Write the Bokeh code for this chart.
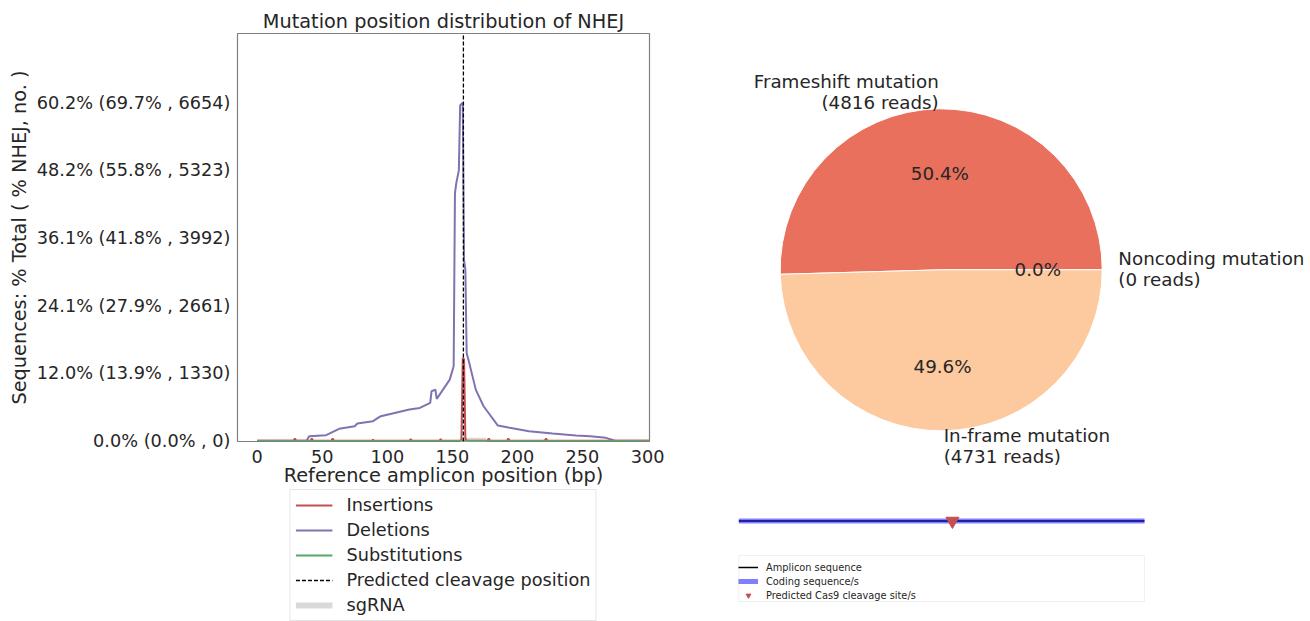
import math
from bokeh.plotting import figure
from bokeh.layouts import row, column
from bokeh.models import Range1d, FixedTicker, Legend, LegendItem, BoxAnnotation
from bokeh.embed import file_html
from bokeh.resources import INLINE
from bokeh.core.properties import value

FONT = "DejaVu Sans"
TXT = "#262626"

# ---------------- data ----------------
del_pos = [0, 38, 40, 53, 63, 75, 77, 89, 95, 104, 117, 125, 133, 134, 137, 138, 148, 151, 152, 153,
           155, 156, 158, 159, 160, 161, 163, 168, 174, 185, 194, 209, 227, 245, 256, 268, 275, 301]
del_val = [0, 0, 91, 111, 235, 287, 340, 386, 484, 536, 615, 647, 746, 975, 1007, 824, 1204, 1466, 4870, 5066,
           5328, 6605, 6654, 3560, 3366, 1728, 1532, 1007, 680, 300, 255, 189, 143, 104, 91, 58, 0, 0]

ins_pos = [0, 28, 29, 30, 41, 42, 43, 57, 58, 59, 88, 89, 90, 117, 118, 119, 140, 141, 142,
           156, 157, 158, 159, 160, 161, 177, 178, 179, 192, 193, 194, 221, 222, 223, 301]
ins_val = [0, 0, 45, 0, 0, 45, 0, 0, 45, 0, 0, 20, 0, 0, 30, 0, 0, 30, 0,
           0, 20, 1630, 1610, 40, 0, 0, 45, 0, 0, 45, 0, 0, 45, 0, 0]

sub_pos = [0, 301]
sub_val = [0, 0]

cut_pos = 158.5
sgrna_span = [156, 176]

y_ticks = [0, 1330.8, 2661.6, 3992.4, 5323.2, 6654]
y_tick_labels = ["0.0% (0.0% , 0)", "12.0% (13.9% , 1330)", "24.1% (27.9% , 2661)",
                 "36.1% (41.8% , 3992)", "48.2% (55.8% , 5323)", "60.2% (69.7% , 6654)"]
x_ticks = [0, 50, 100, 150, 200, 250, 300]

pie_names = ["Frameshift mutation", "In-frame mutation", "Noncoding mutation"]
pie_reads = [4816, 4731, 0]
pie_colors = ["#E8705C", "#FDC99E", "#FEE8D8"]

amplicon_len = 301
coding_span = [0, 301]
cas9_cut = [158.5]

# styles
C_INS, C_DEL, C_SUB, C_SG = "#C44E52", "#8172B2", "#55A868", "#d9d9d9"

# ---------------- left: mutation position distribution ----------------
LW = 680
BL, BR = 237, 31
Y0, Y1 = -14, 8018
p1 = figure(width=LW, height=489, x_range=Range1d(-15.1, 301.5), y_range=Range1d(Y0, Y1),
            output_backend="svg", toolbar_location=None,
            min_border_left=BL, min_border_right=BR, min_border_top=33, min_border_bottom=47)
p1.background_fill_color = "white"
p1.border_fill_color = "white"
p1.outline_line_color = "#808080"
p1.outline_line_width = 1.2
p1.grid.visible = False

p1.title.text = "Mutation position distribution of NHEJ"
p1.title.align = "center"
p1.title.text_font = FONT
p1.title.text_font_size = "19.3px"
p1.title.text_font_style = "normal"
p1.title.text_color = TXT
p1.title.standoff = 1

for ax in (p1.xaxis[0], p1.yaxis[0]):
    ax.axis_line_color = None
    ax.major_tick_out = 0
    ax.major_tick_in = 0
    ax.minor_tick_out = 0
    ax.minor_tick_in = 0
    ax.major_label_text_font = FONT
    ax.major_label_text_font_size = "17.7px"
    ax.major_label_text_color = TXT
    ax.major_label_text_line_height = 1.0
    ax.axis_label_text_font = FONT
    ax.axis_label_text_font_size = "19.3px"
    ax.axis_label_text_font_style = "normal"
    ax.axis_label_text_color = TXT
    ax.axis_label_text_line_height = 1.0

p1.yaxis.ticker = FixedTicker(ticks=y_ticks)
p1.yaxis.major_label_overrides = dict(zip(y_ticks, y_tick_labels))
p1.yaxis.major_label_standoff = 7
p1.yaxis.axis_label = "Sequences: % Total ( % NHEJ, no. )"
p1.yaxis.axis_label_standoff = 3

p1.xaxis.ticker = FixedTicker(ticks=x_ticks)
p1.xaxis.major_label_standoff = 8
p1.xaxis.axis_label = "Reference amplicon position (bp)"
p1.xaxis.axis_label_standoff = -2

p1.line(sgrna_span, [0, 0], line_width=6, line_color=C_SG)
p1.line(del_pos, del_val, line_width=2, line_color=C_DEL)
p1.line(ins_pos, ins_val, line_width=2, line_color=C_INS)
p1.line(sub_pos, sub_val, line_width=1.5, line_color=C_SUB)
p1.line([cut_pos, cut_pos], [Y0, Y1], line_width=1.3, line_color="black", line_dash="4 2")

# legend strip under the left plot (same side borders, so column alignment is harmless).
# Its proxy renderers reuse the series but sit outside this strip's (empty) y range.
pl = figure(width=LW, height=132, x_range=Range1d(0, 1), y_range=Range1d(-3, -2),
            output_backend="svg", toolbar_location=None,
            x_axis_location=None, y_axis_location=None,
            min_border_left=BL, min_border_right=BR, min_border_top=0, min_border_bottom=0)
pl.outline_line_color = None
pl.grid.visible = False
pl.background_fill_color = "white"
pl.border_fill_color = "white"
l_ins = pl.line(ins_pos, ins_val, line_width=2, line_color=C_INS)
l_del = pl.line(del_pos, del_val, line_width=2, line_color=C_DEL)
l_sub = pl.line(sub_pos, sub_val, line_width=2, line_color=C_SUB)
l_cut = pl.line([cut_pos, cut_pos], [Y0 + 100, Y1], line_width=1.3, line_color="black", line_dash="4 2")
l_sg = pl.line(sgrna_span, [0, 0], line_width=6, line_color=C_SG)
leg1 = Legend(items=[LegendItem(label="Insertions", renderers=[l_ins]),
                     LegendItem(label="Deletions", renderers=[l_del]),
                     LegendItem(label="Substitutions", renderers=[l_sub]),
                     LegendItem(label="Predicted cleavage position", renderers=[l_cut]),
                     LegendItem(label="sgRNA", renderers=[l_sg])],
              location="top_center", orientation="vertical",
              label_text_font=FONT, label_text_font_size="17.7px", label_text_color=TXT,
              glyph_width=37, glyph_height=20, label_height=20, label_standoff=14,
              spacing=5, padding=5, margin=0,
              border_line_color="#cccccc", border_line_width=1,
              background_fill_color="white", background_fill_alpha=1.0)
pl.add_layout(leg1)

# ---------------- right: pie + amplicon diagram ----------------
PW, PH = 630, 621
OX = LW           # page x of this figure's left edge
R = 161.0
cx, cy = 940.7 - OX, 269.3   # pie centre, figure pixels from left / top
p2 = figure(width=PW, height=PH,
            x_range=Range1d(-cx / R, (PW - cx) / R), y_range=Range1d(-(PH - cy) / R, cy / R),
            output_backend="svg", toolbar_location=None,
            x_axis_location=None, y_axis_location=None,
            min_border_left=0, min_border_right=0, min_border_top=0, min_border_bottom=0)
p2.outline_line_color = None
p2.grid.visible = False
p2.background_fill_color = "white"
p2.border_fill_color = "white"

total = float(sum(pie_reads))
acc = 0.0
for name, n, col in zip(pie_names, pie_reads, pie_colors):
    frac = n / total
    a0 = acc * 2 * math.pi
    a1 = (acc + frac) * 2 * math.pi
    acc += frac
    if n > 0:
        p2.wedge(x=0, y=0, radius=1, start_angle=a0, end_angle=a1, direction="anticlock",
                 fill_color=col, line_color="white", line_width=1)
    mid = (a0 + a1) / 2
    lx, ly = 1.1 * math.cos(mid), 1.1 * math.sin(mid)
    p2.text(x=[lx], y=[ly + 0.007], text=[f"{name}\n({n} reads)"],
            text_align="left" if lx >= 0 else "right", text_baseline="middle",
            text_font=value(FONT), text_font_size="18.3px", text_color=TXT, text_line_height=1.0)
    px, py = 0.6 * math.cos(mid), 0.6 * math.sin(mid)
    p2.text(x=[px], y=[py], text=[f"{100 * frac:.1f}%"], text_align="center", text_baseline="middle",
            text_font=value(FONT), text_font_size="18.3px", text_color=TXT)

# amplicon diagram on its own ranges (pixel-based y)
ax0, ax1 = 738.3 - OX, 1144.0 - OX      # where 0 and amplicon_len land
k = (ax1 - ax0) / amplicon_len
line_y = 520.5
p2.extra_x_ranges = {"amp": Range1d(-ax0 / k, (PW - ax0) / k)}
p2.extra_y_ranges = {"amp": Range1d(-(PH - line_y), line_y)}

r_amp = p2.line([0, amplicon_len], [0, 0], line_color="black", line_width=1.5,
                x_range_name="amp", y_range_name="amp")
r_cds = p2.line(coding_span, [0, 0], line_color="blue", line_alpha=0.5, line_width=5,
                x_range_name="amp", y_range_name="amp")
r_cas = p2.scatter(cas9_cut, [0] * len(cas9_cut), marker="inverted_triangle", size=13,
                   fill_color="#C44E52", line_color="#C44E52",
                   x_range_name="amp", y_range_name="amp")

p2.add_layout(BoxAnnotation(left=0, right=amplicon_len, bottom=line_y - 601, top=line_y - 555,
                            x_range_name="amp", y_range_name="amp",
                            fill_alpha=0, line_color="#cccccc", line_width=1))
leg3 = Legend(items=[LegendItem(label="Amplicon sequence", renderers=[r_amp]),
                     LegendItem(label="Coding sequence/s", renderers=[r_cds]),
                     LegendItem(label="Predicted Cas9 cleavage site/s", renderers=[r_cas])],
              location=(round(ax0), PH - 601), orientation="vertical",
              label_text_font=FONT, label_text_font_size="9.8px", label_text_color=TXT,
              glyph_width=20, glyph_height=12, label_height=12, label_standoff=8,
              spacing=2, padding=3, margin=0,
              border_line_color=None, background_fill_alpha=0)
p2.add_layout(leg3)

layout = row(column(p1, pl), column(p2))
open("out.html", "w").write(file_html(layout, INLINE))
